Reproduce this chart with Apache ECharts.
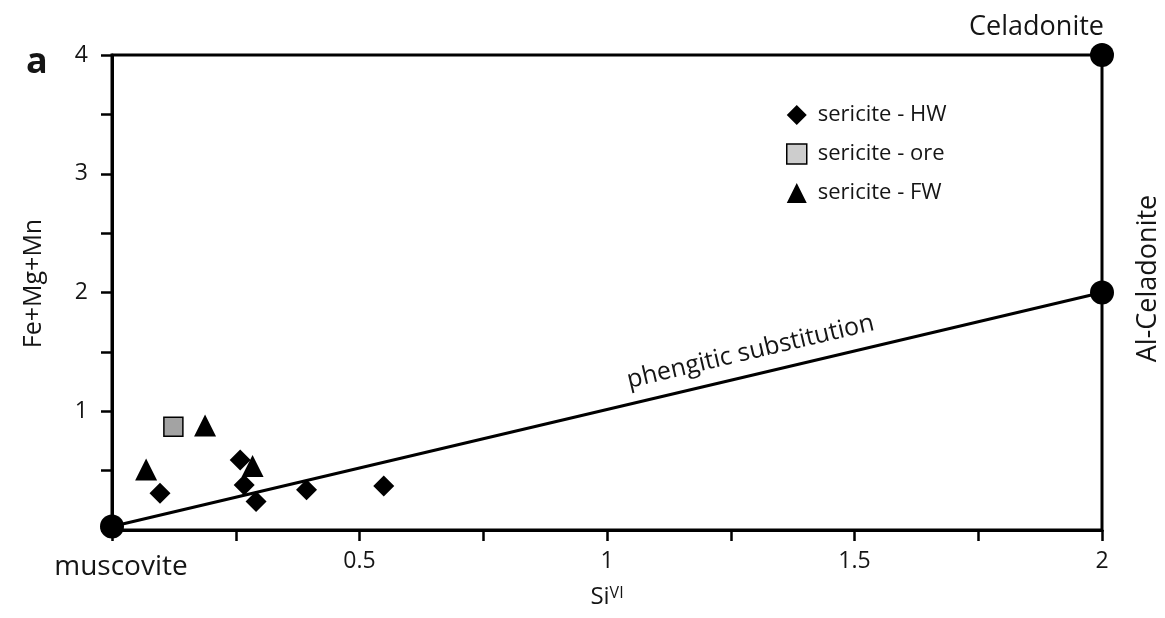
<!DOCTYPE html>
<html>
<head>
<meta charset="utf-8">
<script src="https://cdn.jsdelivr.net/npm/echarts@6/dist/echarts.min.js"></script>
<style>
html, body { margin: 0; padding: 0; background: #fff; }
#chart { width: 1165px; height: 618px; }
</style>
</head>
<body>
<div id="chart"></div>
<script>
var chart = echarts.init(document.getElementById('chart'));

// SiVI vs Fe+Mg+Mn
var hwData = [[0.097, 0.31], [0.259, 0.59], [0.267, 0.38], [0.291, 0.24], [0.393, 0.34], [0.549, 0.37]];
var oreData = [[0.124, 0.87]];
var fwData = [[0.069, 0.51], [0.188, 0.88], [0.284, 0.54]];
var seriesNames = ['sericite - HW', 'sericite - ore', 'sericite - FW'];
var endNames = ['muscovite', 'Al-Celadonite', 'Celadonite'];
var endPoints = [[0, 0.03], [2, 2], [2, 4]];
var trendLine = [[0, 0.03], [2, 2]];
var xTickLabels = ['0.5', '1', '1.5', '2'];
var yTickLabels = ['1', '2', '3', '4'];

var font = 'Open Sans';
var ink = '#151515';

var option = {
    animation: false,
    backgroundColor: '#fff',
    title: {
        text: 'a',
        left: 26,
        top: 45,
        padding: 0,
        textStyle: { fontFamily: font, fontSize: 36, fontWeight: 'bold', color: ink }
    },
    grid: {
        left: 112,
        right: 63,
        top: 55,
        bottom: 88,
        show: true,
        borderColor: '#000',
        borderWidth: 3
    },
    legend: {
        data: [
            { name: seriesNames[0], icon: 'diamond' },
            { name: seriesNames[1], icon: 'rect', itemStyle: { color: '#cdcdcd', borderColor: '#000', borderWidth: 1.5 } },
            { name: seriesNames[2], icon: 'triangle' }
        ],
        orient: 'vertical',
        left: 781,
        top: 99,
        itemWidth: 20,
        itemHeight: 20,
        itemGap: 17,
        textStyle: { fontFamily: font, fontSize: 22, color: ink, padding: [0, 0, 0, 6] }
    },
    xAxis: {
        type: 'value',
        min: 0,
        max: 2,
        interval: 0.25,
        name: '{a|Si}{b|VI}',
        nameLocation: 'middle',
        nameGap: 55,
        nameTextStyle: {
            fontFamily: font,
            fontSize: 24,
            color: ink,
            rich: {
                a: { fontFamily: font, fontSize: 24, color: ink },
                b: { fontFamily: font, fontSize: 16, color: ink, verticalAlign: 'top' }
            }
        },
        axisLine: { lineStyle: { color: '#000', width: 3 } },
        axisTick: { length: 11, lineStyle: { color: '#000', width: 2.5 } },
        axisLabel: {
            margin: 20,
            fontFamily: font,
            fontSize: 23,
            color: ink,
            formatter: function (v) {
                var s = String(v);
                return xTickLabels.indexOf(s) >= 0 ? s : '';
            }
        },
        splitLine: { show: false }
    },
    yAxis: {
        type: 'value',
        min: 0,
        max: 4,
        interval: 0.5,
        name: 'Fe+Mg+Mn',
        nameLocation: 'middle',
        nameRotate: 90,
        nameGap: 66,
        nameTextStyle: { fontFamily: font, fontSize: 25, color: ink, padding: [0, 0, 0, 18] },
        axisLine: { lineStyle: { color: '#000', width: 3 } },
        axisTick: { length: 11, lineStyle: { color: '#000', width: 2.5 } },
        axisLabel: {
            margin: 24,
            fontFamily: font,
            fontSize: 23,
            color: ink,
            formatter: function (v) {
                var s = String(v);
                return yTickLabels.indexOf(s) >= 0 ? s : '';
            }
        },
        splitLine: { show: false }
    },
    series: [{
        name: 'phengitic',
        type: 'line',
        data: trendLine,
        symbol: 'none',
        lineStyle: { color: '#000', width: 3 },
        z: 2
    }, {
        name: seriesNames[0],
        type: 'scatter',
        symbol: 'diamond',
        symbolSize: 21,
        itemStyle: { color: '#000', opacity: 1 },
        data: hwData,
        z: 3
    }, {
        name: seriesNames[1],
        type: 'scatter',
        symbol: 'rect',
        symbolSize: 19,
        itemStyle: { color: '#a3a3a3', borderColor: '#000', borderWidth: 1.5, opacity: 1 },
        data: oreData,
        z: 3
    }, {
        name: seriesNames[2],
        type: 'scatter',
        symbol: 'triangle',
        symbolSize: 22,
        itemStyle: { color: '#000', opacity: 1 },
        data: fwData,
        z: 3
    }, {
        name: 'end members',
        type: 'scatter',
        symbol: 'circle',
        symbolSize: 24,
        itemStyle: { color: '#000', opacity: 1 },
        data: endPoints.map(function (p, i) {
            var d = { name: endNames[i], value: p };
            if (i === 0) {
                d.label = { show: true, position: 'bottom', distance: 15, fontSize: 28, offset: [9, 0] };
            } else if (i === 2) {
                d.label = { show: true, position: 'top', align: 'right', offset: [2, 3], fontSize: 27 };
            }
            return d;
        }),
        label: {
            show: false,
            formatter: '{b}',
            fontFamily: font,
            fontSize: 26,
            color: ink
        },
        z: 4
    }]
};

chart.setOption(option);

// annotations placed from data coordinates
var a = chart.convertToPixel({ gridIndex: 0 }, trendLine[0]);
var b = chart.convertToPixel({ gridIndex: 0 }, trendLine[1]);
var ang = Math.atan2(a[1] - b[1], b[0] - a[0]);
var mid = chart.convertToPixel({ gridIndex: 0 }, [1.29, 1.5]);
var alC = chart.convertToPixel({ gridIndex: 0 }, endPoints[1]);

chart.setOption({
    graphic: [{
        type: 'text',
        x: mid[0],
        y: mid[1],
        rotation: ang,
        style: {
            text: 'phengitic substitution',
            font: '25px "Open Sans"',
            fill: ink,
            align: 'center',
            verticalAlign: 'middle'
        }
    }, {
        type: 'text',
        x: alC[0] + 46,
        y: alC[1] - 14,
        rotation: Math.PI / 2,
        style: {
            text: 'Al-Celadonite',
            font: '27px "Open Sans"',
            fill: ink,
            align: 'center',
            verticalAlign: 'middle'
        }
    }]
});

window.addEventListener('resize', function () {
    chart.resize();
});
</script>
</body>
</html>
